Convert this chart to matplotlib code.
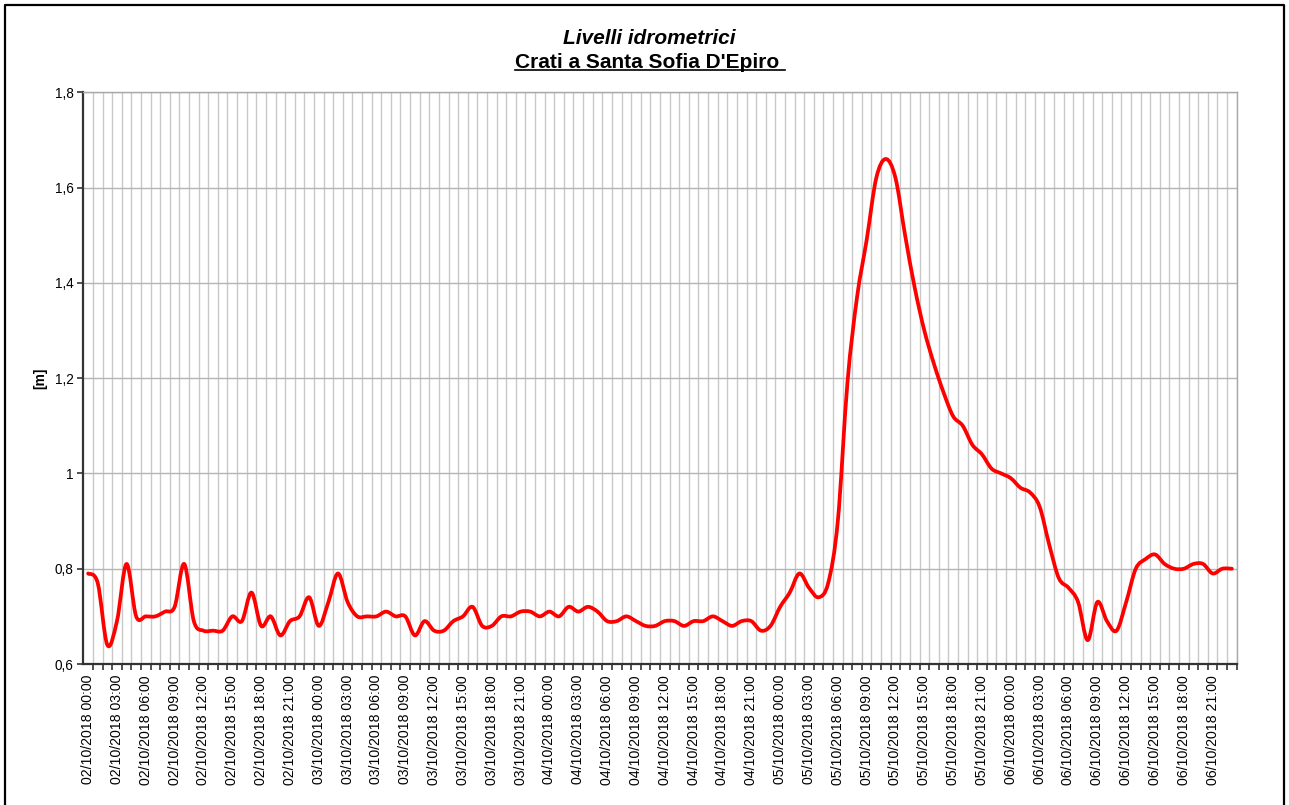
import numpy as np
import pandas as pd
import matplotlib
matplotlib.use("Agg")
import matplotlib.pyplot as plt
from matplotlib.path import Path
from matplotlib.patches import PathPatch
from matplotlib.lines import Line2D
from matplotlib.ticker import FixedLocator, FuncFormatter

# ===============================
# Data
# ===============================
start_time = "2018-10-02 00:00"
n_hours = 120
times = pd.date_range(start_time, periods=n_hours, freq="h")
tick_labels = [t.strftime("%d/%m/%Y %H:%M") for t in times]

levels = [
    0.79, 0.77, 0.64, 0.69, 0.81, 0.70, 0.70, 0.70, 0.71, 0.72,
    0.81, 0.69, 0.67, 0.67, 0.67, 0.70, 0.69, 0.75, 0.68, 0.70,
    0.66, 0.69, 0.70, 0.74, 0.68, 0.73, 0.79, 0.73, 0.70, 0.70,
    0.70, 0.71, 0.70, 0.70, 0.66, 0.69, 0.67, 0.67, 0.69, 0.70,
    0.72, 0.68, 0.68, 0.70, 0.70, 0.71, 0.71, 0.70, 0.71, 0.70,
    0.72, 0.71, 0.72, 0.71, 0.69, 0.69, 0.70, 0.69, 0.68, 0.68,
    0.69, 0.69, 0.68, 0.69, 0.69, 0.70, 0.69, 0.68, 0.69, 0.69,
    0.67, 0.68, 0.72, 0.75, 0.79, 0.76, 0.74, 0.77, 0.90, 1.19,
    1.37, 1.49, 1.62, 1.66, 1.62, 1.50, 1.39, 1.30, 1.23, 1.17,
    1.12, 1.10, 1.06, 1.04, 1.01, 1.00, 0.99, 0.97, 0.96, 0.93,
    0.85, 0.78, 0.76, 0.73, 0.65, 0.73, 0.69, 0.67, 0.73, 0.80,
    0.82, 0.83, 0.81, 0.80, 0.80, 0.81, 0.81, 0.79, 0.80, 0.80,
]

title_1 = "Livelli idrometrici"
title_2 = "Crati a Santa Sofia D'Epiro "
y_label = "[m]"
y_ticks = [0.6, 0.8, 1.0, 1.2, 1.4, 1.6, 1.8]

# ===============================
# Figure
# ===============================
plt.rcParams["font.family"] = ["Liberation Sans", "DejaVu Sans"]
W, H = 1289, 805
fig = plt.figure(figsize=(W / 100, H / 100), dpi=100)
ax = fig.add_axes([83.3 / W, 1 - 664 / H, (1236.7 - 83.3) / W, (664 - 92.3) / H])

x = np.arange(len(levels), dtype=float)
y = np.array(levels)

# smoothed line (Excel-like bezier through the points)
xp = np.concatenate([[x[0]], x, [x[-1]]])
yp = np.concatenate([[y[0]], y, [y[-1]]])
verts = [(x[0], y[0])]
codes = [Path.MOVETO]
for i in range(1, len(xp) - 2):
    c1 = (xp[i] + (xp[i + 1] - xp[i - 1]) / 6, yp[i] + (yp[i + 1] - yp[i - 1]) / 6)
    c2 = (xp[i + 1] - (xp[i + 2] - xp[i]) / 6, yp[i + 1] - (yp[i + 2] - yp[i]) / 6)
    verts += [c1, c2, (xp[i + 1], yp[i + 1])]
    codes += [Path.CURVE4] * 3
ax.add_patch(PathPatch(Path(verts, codes), facecolor="none", edgecolor="#ff0000",
                       linewidth=2.7, capstyle="round", joinstyle="round", zorder=3))

ax.set_xlim(-0.5, n_hours - 0.5)
ax.set_ylim(0.6, 1.8)

# x axis: labels every 3 hours at category centres, ticks/grid at boundaries
lab_pos = list(range(0, n_hours, 3))
ax.xaxis.set_major_locator(FixedLocator(lab_pos))
ax.set_xticklabels([tick_labels[i] for i in lab_pos], rotation=90, fontsize=10.2)
ax.xaxis.set_minor_locator(FixedLocator(np.arange(0.5, n_hours, 1.0)))
ax.tick_params(axis="x", which="major", length=0, pad=8)
ax.tick_params(axis="x", which="minor", length=4, width=1.2, color="#333333", direction="out")
ax.grid(True, axis="x", which="minor", color="#c8c8c8", linewidth=1.0)

# y axis
ax.set_yticks(y_ticks)
ax.yaxis.set_major_formatter(FuncFormatter(lambda v, p: ("%g" % round(v, 2)).replace(".", ",")))
ax.tick_params(axis="y", which="major", length=4, width=1.2, color="#333333",
               direction="out", labelsize=9.8, pad=3)
ax.grid(True, axis="y", which="major", color="#b4b4b4", linewidth=1.0)
ax.set_axisbelow(True)

for side in ["left", "bottom"]:
    ax.spines[side].set_color("#333333")
    ax.spines[side].set_linewidth(1.6)
for side in ["top", "right"]:
    ax.spines[side].set_color("#a8a8a8")
    ax.spines[side].set_linewidth(1.0)

fig.text(40 / W, 1 - 378 / H, y_label, rotation=90, fontsize=10, fontweight="bold",
         ha="center", va="center")

# titles
fig.text(0.504, 1 - 38 / H, title_1, fontsize=15, fontweight="bold", fontstyle="italic",
         ha="center", va="center")
t2 = fig.text(0.504, 1 - 63 / H, title_2, fontsize=15, fontweight="bold",
              ha="center", va="center")
fig.canvas.draw()
bb = t2.get_window_extent(fig.canvas.get_renderer())
uy = (bb.y0 + 2) / H
fig.add_artist(Line2D([bb.x0 / W, bb.x1 / W], [uy, uy], color="black", linewidth=1.2))

# chart border
fig.add_artist(Line2D([5 / W, 5 / W, 1284 / W, 1284 / W],
                      [-0.05, 1 - 5 / H, 1 - 5 / H, -0.05], color="black", linewidth=1.6))

fig.savefig("out.png", dpi=100)
